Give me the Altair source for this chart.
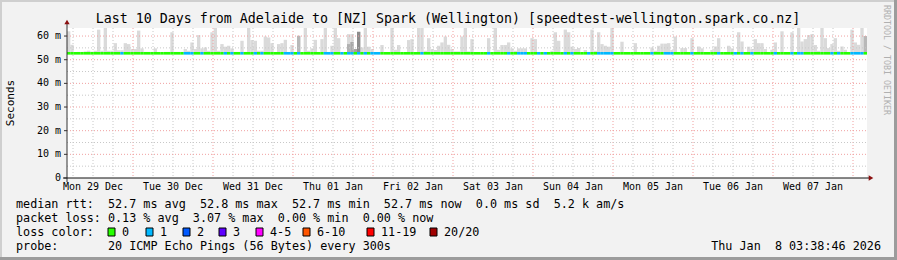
import altair as alt
import pandas as pd

# ---------------- data ----------------
TITLE = "Last 10 Days from Adelaide to [NZ] Spark (Wellington) [speedtest-wellington.spark.co.nz]"
DAY_LABELS = ["Mon 29 Dec", "Tue 30 Dec", "Wed 31 Dec", "Thu 01 Jan", "Fri 02 Jan",
              "Sat 03 Jan", "Sun 04 Jan", "Mon 05 Jan", "Tue 06 Jan", "Wed 07 Jan"]
FIRST_MIDNIGHT_H = 19.8      # hours from left edge of graph to Tue 30 Dec 00:00
SPAN_H = 240                 # 10 days

# top of smoke (ms) per hourly column
SMOKE_TOP = [
    62.0, 56.3, 53.1, 53.3, 53.3, 53.5, 53.8, 53.4, 53.8, 62.7,
    53.8, 63.4, 53.8, 53.8, 57.0, 54.0, 54.0, 57.0, 56.6, 54.5,
    54.5, 62.3, 54.8, 53.3, 53.3, 53.3, 54.8, 53.1, 53.1, 53.3,
    53.3, 61.6, 53.3, 53.3, 53.3, 54.5, 53.8, 57.3, 54.5, 60.4,
    54.8, 55.2, 53.8, 61.6, 63.4, 53.8, 56.6, 55.5, 55.9, 54.8,
    53.3, 53.3, 58.0, 53.3, 63.4, 58.3, 58.0, 53.8, 53.8, 59.8,
    59.4, 57.0, 53.1, 56.6, 57.0, 58.4, 53.1, 56.2, 53.1, 60.1,
    52.8, 63.4, 53.8, 54.8, 58.4, 53.1, 58.7, 63.4, 53.1, 55.9,
    63.4, 59.1, 53.1, 53.1, 60.8, 60.8, 53.8, 61.8, 55.2, 63.4,
    55.5, 54.5, 53.1, 53.1, 56.2, 53.1, 53.1, 63.4, 54.2, 56.2,
    53.1, 53.1, 58.3, 58.7, 53.1, 63.4, 63.4, 53.8, 59.1, 54.5,
    54.1, 55.9, 57.3, 59.8, 56.3, 54.5, 53.5, 53.5, 59.8, 63.4,
    53.5, 58.7, 53.1, 53.1, 53.1, 53.1, 59.1, 53.1, 63.4, 54.2,
    56.2, 56.2, 57.3, 54.8, 53.8, 54.8, 54.8, 54.8, 53.1, 59.1,
    58.7, 53.1, 53.1, 53.1, 53.1, 53.8, 61.6, 58.0, 53.1, 62.7,
    61.6, 55.5, 54.5, 54.9, 53.1, 54.1, 53.1, 62.7, 53.8, 61.6,
    56.6, 55.9, 55.5, 63.4, 53.1, 53.1, 57.6, 53.1, 53.1, 53.1,
    57.0, 53.1, 53.1, 53.1, 53.1, 55.2, 53.8, 55.9, 56.8, 56.8,
    57.0, 54.1, 59.8, 53.1, 54.9, 54.9, 53.1, 59.1, 53.1, 55.6,
    54.8, 53.1, 53.1, 54.1, 55.6, 59.1, 53.1, 53.1, 55.9, 54.8,
    53.1, 61.6, 57.7, 53.1, 55.5, 54.5, 58.7, 57.0, 57.0, 54.5,
    53.1, 54.2, 57.3, 53.1, 62.0, 53.1, 53.1, 61.6, 53.1, 63.4,
    57.7, 58.7, 60.4, 60.8, 56.2, 53.8, 63.4, 59.1, 54.9, 56.6,
    59.1, 53.8, 55.6, 54.2, 53.1, 62.7, 57.3, 56.3, 63.4, 60.0,
]
SMOKE_MIN = 52.4
MEDIAN_RTT = 52.7

# denser (darker) smoke columns
DARK_COLS = [69, 84, 85, 86, 87, 239]
DARK_TOPS = [60.1, 56.6, 57.5, 54.5, 61.8, 60.0]
DARK_SHADE = ["#b8b8b8", "#b0b0b0", "#a8a8a8", "#a0a0a0", "#8c8c8c", "#b8b8b8"]

# hourly columns with 1/20 packets lost
LOSS1_COLS = [16, 35, 36, 37, 40, 47, 49, 52, 56, 58, 65, 66, 67, 69, 77, 78, 79, 82,
              84, 85, 87, 89, 91, 92, 93, 106, 126, 132, 135, 136, 137, 141, 143, 149,
              151, 156, 159, 160, 161, 162, 163, 175, 179, 180, 181, 187, 195, 200, 202,
              205, 212, 217, 219, 220, 229, 231, 235, 236, 237, 238]

Y_TICKS = [0, 10, 20, 30, 40, 50, 60]
Y_TICK_LABELS = ["0  ", "10 m", "20 m", "30 m", "40 m", "50 m", "60 m"]
Y_MINOR = [5, 15, 25, 35, 45, 55]
Y_MAX = 63.4

LOSS_LABELS = ["0", "1", "2", "3", "4-5", "6-10", "11-19", "20/20"]
LOSS_COLORS = ["#26ff00", "#00b8ff", "#0059ff", "#5e00ff", "#ff00ff", "#ff5500", "#ff0000", "#a00000"]

LEGEND_ROWS = [
    "median rtt:  52.7 ms avg  52.8 ms max  52.7 ms min  52.7 ms now  0.0 ms sd  5.2 k am/s",
    "packet loss: 0.13 % avg  3.07 % max  0.00 % min  0.00 % now",
    "loss color:",
    "probe:       20 ICMP Echo Pings (56 Bytes) every 300s",
]
STAMP = "Thu Jan  8 03:38:46 2026"
WATERMARK = "RRDTOOL / TOBI OETIKER"

# ---------------- layout ----------------
W, H = 800, 150
PL, PT = 67, 28
MONO = "DejaVu Sans Mono"
LOSS_BOX_X = [108, 146, 183, 219, 256, 303, 367, 430]


def nb(s):
    return s.replace(" ", "\u00a0")


XS = alt.Scale(domain=[0, SPAN_H], nice=False, zero=False)
YS = alt.Scale(domain=[0, Y_MAX], nice=False, zero=False)

# ---------------- frames ----------------
smoke_df = pd.DataFrame({
    "x0": list(range(SPAN_H)),
    "x1": [i + 1 for i in range(SPAN_H)],
    "lo": [SMOKE_MIN] * SPAN_H,
    "hi": SMOKE_TOP,
})
dark_df = pd.DataFrame({
    "x0": DARK_COLS,
    "x1": [c + 1 for c in DARK_COLS],
    "lo": [SMOKE_MIN] * len(DARK_COLS),
    "hi": DARK_TOPS,
    "c": DARK_SHADE,
})
loss_color = [LOSS_COLORS[1] if i in LOSS1_COLS else LOSS_COLORS[0] for i in range(SPAN_H)]
med_df = pd.DataFrame({
    "x0": list(range(SPAN_H)),
    "x1": [i + 1 for i in range(SPAN_H)],
    "m": [MEDIAN_RTT] * SPAN_H,
    "c": loss_color,
})

major_x = [FIRST_MIDNIGHT_H + 24 * k for k in range(10) if FIRST_MIDNIGHT_H + 24 * k <= SPAN_H]
minor_x = [FIRST_MIDNIGHT_H + 6 * j for j in range(-4, 40)
           if 0 < FIRST_MIDNIGHT_H + 6 * j < SPAN_H and j % 4 != 0]
label_x = [FIRST_MIDNIGHT_H - 12 + 24 * k for k in range(len(DAY_LABELS))]

smoke = alt.Chart(smoke_df).mark_rect(color="#dadada").encode(
    x=alt.X("x0:Q", scale=XS, axis=None), x2="x1:Q",
    y=alt.Y("lo:Q", scale=YS, axis=None), y2="hi:Q",
)

dark = alt.Chart(dark_df).mark_rect().encode(
    x=alt.X("x0:Q", scale=XS, axis=None), x2="x1:Q",
    y=alt.Y("lo:Q", scale=YS, axis=None), y2="hi:Q",
    color=alt.Color("c:N", scale=None),
)

vmin = alt.Chart(pd.DataFrame({"h": minor_x})).mark_rule(
    color="#c8c8c8", strokeWidth=1, strokeDash=[1, 2]).encode(
    x=alt.X("h:Q", scale=XS, axis=None), y=alt.value(0), y2=alt.value(H))
vmaj = alt.Chart(pd.DataFrame({"h": major_x})).mark_rule(
    color="#f0a0a0", strokeWidth=1, strokeDash=[1, 2]).encode(
    x=alt.X("h:Q", scale=XS, axis=None), y=alt.value(0), y2=alt.value(H))
hmin = alt.Chart(pd.DataFrame({"v": Y_MINOR})).mark_rule(
    color="#c8c8c8", strokeWidth=1, strokeDash=[1, 2]).encode(
    y=alt.Y("v:Q", scale=YS, axis=None), x=alt.value(0), x2=alt.value(W))
hmaj = alt.Chart(pd.DataFrame({"v": Y_TICKS[1:]})).mark_rule(
    color="#f0a0a0", strokeWidth=1, strokeDash=[1, 2]).encode(
    y=alt.Y("v:Q", scale=YS, axis=None), x=alt.value(0), x2=alt.value(W))

median = alt.Chart(med_df).mark_rule(strokeWidth=2.6).encode(
    x=alt.X("x0:Q", scale=XS, axis=None), x2="x1:Q",
    y=alt.Y("m:Q", scale=YS, axis=None),
    color=alt.Color("c:N", scale=None),
)

ytick_df = pd.DataFrame({"v": Y_TICKS, "t": [nb(s) for s in Y_TICK_LABELS]})
ylabels = alt.Chart(ytick_df).mark_text(
    font=MONO, fontSize=10, color="#000000", align="right", baseline="middle").encode(
    y=alt.Y("v:Q", scale=YS, axis=None), x=alt.value(-6), text="t:N")
yticks = alt.Chart(ytick_df).mark_rule(color="#333333", strokeWidth=1).encode(
    y=alt.Y("v:Q", scale=YS, axis=None), x=alt.value(-3), x2=alt.value(0))

one = pd.DataFrame({"a": [0]})
yaxis = alt.Chart(one).mark_rule(color="#333333", strokeWidth=1).encode(
    x=alt.value(0), y=alt.value(-5), y2=alt.value(H + 4))
xaxis = alt.Chart(one).mark_rule(color="#111111", strokeWidth=1).encode(
    x=alt.value(-4), x2=alt.value(W + 3), y=alt.value(H))
arrow_up = alt.Chart(one).mark_point(shape="triangle-up", filled=True, size=28,
                                     color="#8b1010", opacity=1).encode(
    x=alt.value(0), y=alt.value(-6))
arrow_right = alt.Chart(one).mark_point(shape="triangle-right", filled=True, size=28,
                                        color="#8b1010", opacity=1).encode(
    x=alt.value(W + 4), y=alt.value(H))

xlabels = alt.Chart(pd.DataFrame({"h": label_x, "t": [nb(s) for s in DAY_LABELS]})).mark_text(
    font=MONO, fontSize=10, color="#000000", align="center", baseline="middle").encode(
    x=alt.X("h:Q", scale=XS, axis=None), y=alt.value(187 - PT), text="t:N")


def txt(s, x, y, size, align="left", color="#000000", angle=0, font=MONO):
    kw = dict(font=font, fontSize=size, color=color, align=align, baseline="middle")
    if angle:
        kw["angle"] = angle
    return alt.Chart(pd.DataFrame({"t": [nb(s)]})).mark_text(**kw).encode(
        x=alt.value(x - PL), y=alt.value(y - PT), text="t:N")


title = txt(TITLE, 448, 19, 13.3, align="center")
ylab = txt("Seconds", 11, 103, 11, align="center", angle=270)
water = alt.Chart(pd.DataFrame({"t": [nb(WATERMARK)]})).mark_text(
    font=MONO, fontSize=8.3, color="#b0b0b0", align="left", baseline="middle", angle=90).encode(
    x=alt.value(886 - PL), y=alt.value(5 - PT), text="t:N")

row_y = [204, 218, 232, 246]
legend_layers = [txt(r, 16, yy, 11.75) for r, yy in zip(LEGEND_ROWS, row_y)]
legend_layers.append(txt(STAMP, 881, 246, 11.75, align="right"))

box_df = pd.DataFrame({
    "x0": [bx - PL for bx in LOSS_BOX_X],
    "x1": [bx - PL + 7 for bx in LOSS_BOX_X],
    "c": LOSS_COLORS,
})
boxes = alt.Chart(box_df).mark_rect(stroke="#000000", strokeWidth=1).encode(
    x=alt.X("x0:Q", scale=None, axis=None), x2="x1:Q",
    y=alt.value(228 - PT), y2=alt.value(236 - PT),
    color=alt.Color("c:N", scale=None),
)
for bx, lab in zip(LOSS_BOX_X, LOSS_LABELS):
    legend_layers.append(txt(lab, bx + 14, 232, 11.75))


def edge(x0, x1, y0, y1, c):
    return alt.Chart(one).mark_rect(color=c).encode(
        x=alt.value(x0 - PL), x2=alt.value(x1 - PL), y=alt.value(y0 - PT), y2=alt.value(y1 - PT))


frame = [
    edge(0, 897, 0, 2, "#cfcfcf"),
    edge(0, 2, 0, 260, "#cfcfcf"),
    edge(894, 897, 0, 260, "#9c9c9c"),
    edge(0, 897, 257, 260, "#9c9c9c"),
]

chart = alt.layer(
    smoke, dark, vmin, vmaj, hmin, hmaj, median,
    yaxis, xaxis, yticks, ylabels, arrow_up, arrow_right, xlabels,
    title, ylab, water, boxes, *legend_layers, *frame,
).properties(
    width=W, height=H,
    autosize=alt.AutoSizeParams(type="none"),
    padding={"left": PL, "top": PT, "right": 897 - PL - W, "bottom": 260 - PT - H},
    background="#f2f2f2",
).configure_view(fill="#ffffff", stroke=None)

chart.save("out.html", embed_options={"renderer": "svg", "actions": False})
